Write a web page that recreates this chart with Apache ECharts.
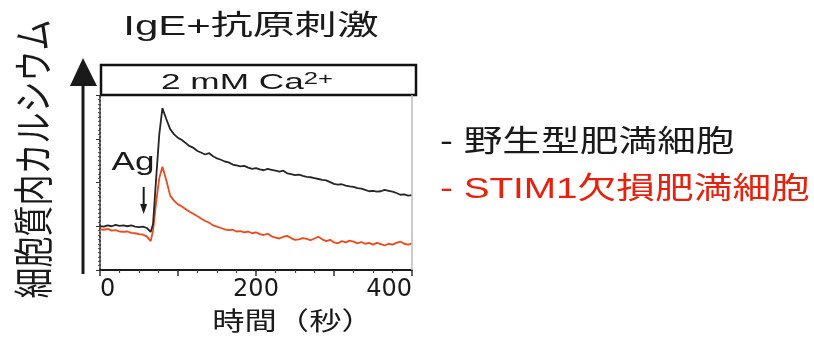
<!DOCTYPE html>
<html><head><meta charset="utf-8">
<script src="https://cdn.jsdelivr.net/npm/echarts@6/dist/echarts.min.js"></script>
<style>html,body{margin:0;padding:0;background:#fff}#c{width:814px;height:338px}</style>
</head><body><div id="c"></div>
<script>
// Time (s)
const times = [0,5,10,15,20,25,30,35,40,45,50,55,60,65,68,72,76,
  80,85,90,95,100,105,110,115,120,125,130,135,140,145,150,155,160,165,170,175,
  180,185,190,195,200,205,210,215,220,225,230,235,240,245,250,255,260,265,270,
  275,280,285,290,295,300,305,310,315,320,325,330,335,340,345,350,355,360,365,
  370,375,380,385,390,395,400];
// 野生型肥満細胞 (arbitrary units)
const wildType = [1.00,0.99,1.02,1.00,1.03,1.01,1.02,1.00,1.02,0.99,0.98,0.99,0.96,0.87,1.05,2.10,3.10,
  3.70,3.45,3.22,3.10,3.02,2.97,2.90,2.83,2.79,2.72,2.68,2.64,2.67,2.60,2.55,2.52,2.48,2.46,2.41,2.39,
  2.37,2.38,2.34,2.31,2.33,2.30,2.28,2.31,2.29,2.27,2.25,2.27,2.21,2.19,2.17,2.18,2.15,2.13,2.12,
  2.10,2.08,2.06,2.05,2.01,1.97,1.95,1.96,1.93,1.91,1.90,1.87,1.86,1.83,1.80,1.81,1.79,1.80,1.83,
  1.81,1.79,1.76,1.72,1.73,1.70,1.71];
// STIM1欠損肥満細胞
const stim1KO = [0.93,0.92,0.94,0.90,0.91,0.88,0.87,0.88,0.85,0.84,0.82,0.81,0.77,0.66,0.90,1.55,2.10,
  2.36,2.05,1.70,1.58,1.50,1.45,1.39,1.33,1.28,1.23,1.17,1.12,1.08,1.02,0.99,0.96,0.93,0.91,0.92,0.88,
  0.89,0.86,0.88,0.84,0.86,0.82,0.80,0.83,0.77,0.74,0.72,0.76,0.78,0.73,0.69,0.70,0.73,0.71,0.68,
  0.72,0.76,0.70,0.66,0.69,0.63,0.61,0.66,0.63,0.67,0.65,0.61,0.64,0.60,0.62,0.58,0.62,0.59,0.56,
  0.60,0.58,0.62,0.65,0.60,0.58,0.61];
const xTickLabels = [0, 200, 400];
const seriesNames = ['野生型肥満細胞', 'STIM1欠損肥満細胞'];
const agTime = 56;

const BLACK = '#262626', RED_LINE = '#f2481c', RED_TEXT = '#e8200c';
const LATIN = "'Liberation Sans','Noto Sans CJK JP',sans-serif";
const CJK = "'Noto Sans CJK JP','Liberation Sans',sans-serif";

const chart = echarts.init(document.getElementById('c'), null, {renderer: 'canvas'});
const pair = arr => times.map((t, i) => [t, arr[i]]);

chart.setOption({
  animation: false,
  grid: {left: 100, right: 402, top: 95, bottom: 68},
  xAxis: {
    type: 'value', min: 0, max: 400, interval: 100,
    axisLine: {lineStyle: {color: '#1a1a1a', width: 2}},
    axisTick: {length: 6, lineStyle: {color: '#333', width: 1.5}},
    minorTick: {show: true, splitNumber: 4, length: 3, lineStyle: {color: '#444', width: 1.2}},
    splitLine: {show: false},
    axisLabel: {
      margin: 8, color: '#1a1a1a', fontSize: 24, fontFamily: "'DejaVu Sans',sans-serif",
      alignMinLabel: 'left', alignMaxLabel: 'right',
      formatter: v => xTickLabels.includes(v) ? String(v) : ''
    }
  },
  yAxis: {
    type: 'value', min: 0, max: 4, interval: 1,
    axisLine: {show: true, lineStyle: {color: '#444', type: 'dotted', width: 2}},
    axisTick: {show: true, length: 4, lineStyle: {color: '#333'}},
    minorTick: {show: true, splitNumber: 10, length: 2, lineStyle: {color: '#555'}},
    axisLabel: {show: false},
    splitLine: {show: false}
  },
  series: [
    {name: seriesNames[1], type: 'line', data: pair(stim1KO), showSymbol: false,
     lineStyle: {color: RED_LINE, width: 1.8}, itemStyle: {color: RED_LINE}, z: 2},
    {name: seriesNames[0], type: 'line', data: pair(wildType), showSymbol: false,
     lineStyle: {color: BLACK, width: 1.8}, itemStyle: {color: BLACK}, z: 3,
     markLine: {silent: true, symbol: 'none', label: {show: false},
       lineStyle: {color: '#bdbdbd', type: 'solid', width: 1.5},
       data: [{xAxis: 400}]}}
  ]
});

// Annotation positions from the axes
const p00 = chart.convertToPixel({gridIndex: 0}, [0, 0]);
const p44 = chart.convertToPixel({gridIndex: 0}, [400, 4]);
const agX = chart.convertToPixel({gridIndex: 0}, [agTime, 0])[0];
const gl = p00[0], gr = p44[0], gt = p44[1], gb = p00[1];

chart.setOption({
  graphic: [
    // big y arrow
    {type: 'line', shape: {x1: gl - 17, y1: gb + 4, x2: gl - 17, y2: gt - 12},
     style: {stroke: '#1a1a1a', lineWidth: 3}},
    {type: 'polygon', shape: {points: [[gl - 17, gt - 37], [gl - 30, gt - 9], [gl - 3, gt - 9]]},
     style: {fill: '#1a1a1a'}},
    // Ca box
    {type: 'rect', shape: {x: gl + 1, y: gt - 30, width: gr - gl + 3, height: 30},
     style: {fill: 'none', stroke: '#111', lineWidth: 2.5}},
    {type: 'text', x: 247, y: 83, scaleX: 1.6,
     style: {text: '{b|2 mM Ca}{s|2+}', align: 'center', verticalAlign: 'middle',
       rich: {b: {fontSize: 22, fontFamily: LATIN, fill: '#1a1a1a', lineHeight: 22},
              s: {fontSize: 16, fontFamily: LATIN, fill: '#1a1a1a', verticalAlign: 'top', lineHeight: 16}}}},
    // title
    {type: 'text', x: 251, y: 27, scaleX: 1.5,
     style: {text: 'IgE+抗原刺激', font: "28px " + LATIN, fill: '#1a1a1a', align: 'center', verticalAlign: 'middle'}},
    // y title
    {type: 'text', x: 33, y: 159, rotation: Math.PI / 2, scaleX: 1.0, scaleY: 1.29,
     style: {text: '細胞質内カルシウム', font: "31px " + CJK, fill: '#1a1a1a', align: 'center', verticalAlign: 'middle'}},
    // x title
    {type: 'text', x: 293, y: 320, scaleX: 1.29,
     style: {text: '時間（秒）', font: "25px " + CJK, fill: '#1a1a1a', align: 'center', verticalAlign: 'middle'}},
    // Ag
    {type: 'text', x: 133, y: 163, scaleX: 1.35,
     style: {text: 'Ag', font: "26px " + LATIN, fill: '#1a1a1a', align: 'center', verticalAlign: 'middle'}},
    {type: 'line', shape: {x1: agX, y1: 187, x2: agX, y2: 206}, style: {stroke: '#1a1a1a', lineWidth: 2}},
    {type: 'polygon', shape: {points: [[agX, 214], [agX - 3.5, 204], [agX + 3.5, 204]]}, style: {fill: '#1a1a1a'}},
    // legend texts
    {type: 'text', x: 440, y: 143, scaleX: 1.29,
     style: {text: '- ' + seriesNames[0], font: "30px " + LATIN, fill: '#1a1a1a', align: 'left', verticalAlign: 'middle'}},
    {type: 'text', x: 440, y: 190, scaleX: 1.29,
     style: {text: '- ' + seriesNames[1], font: "30px " + LATIN, fill: RED_TEXT, align: 'left', verticalAlign: 'middle'}}
  ]
});
</script>
</body></html>
